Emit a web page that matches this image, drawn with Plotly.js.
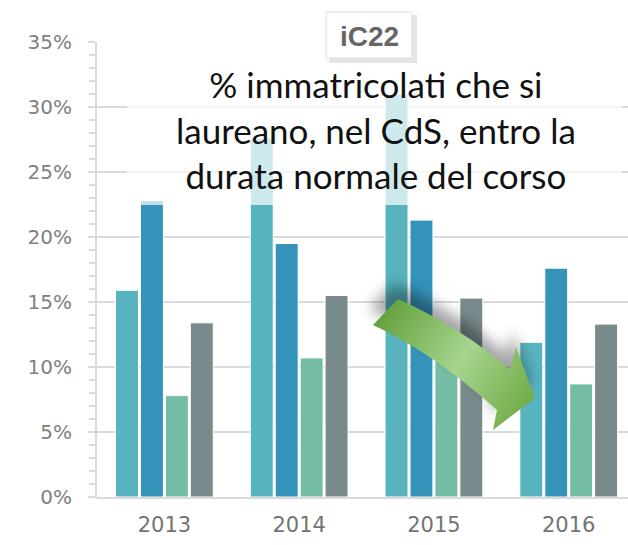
<!DOCTYPE html>
<html>
<head>
<meta charset="utf-8">
<script src="https://cdn.plot.ly/plotly-3.0.1.min.js"></script>
<style>html,body{margin:0;padding:0;background:#fff;}#chart{width:628px;height:545px;}</style>
</head>
<body>
<div id="chart"></div>
<script>
// Data
var years = ['2013', '2014', '2015', '2016'];
var seriesA = [15.9, 27.6, 31.0, 11.9];   // teal
var seriesB = [22.8, 19.5, 21.3, 17.6];   // blue
var seriesC = [7.8, 10.7, 11.0, 8.7];     // green
var seriesD = [13.4, 15.5, 15.3, 13.3];   // gray
var seriesNames = ['A', 'B', 'C', 'D'];
var yTicks = [0, 5, 10, 15, 20, 25, 30, 35];
var yTickLabels = ['0%', '5%', '10%', '15%', '20%', '25%', '30%', '35%'];
var titleText = '% immatricolati che si<br>laureano, nel CdS, entro la<br>durata normale del corso';
var badgeText = 'iC22';

var colors = ['#57b4bf', '#3592b9', '#74bca4', '#798a8c'];
var allSeries = [seriesA, seriesB, seriesC, seriesD];

// pixel -> paper helpers (plot area: x 97..628, y 42..497)
var L = 97, R = 628, T = 42, B = 497;
function X(px) { return (px - L) / (R - L); }
function Y(py) { return (B - py) / (B - T); }

var traces = allSeries.map(function (s, i) {
  return {
    type: 'bar', x: years, y: s, name: seriesNames[i],
    marker: { color: colors[i], line: { color: '#ffffff', width: 1 } },
    hoverinfo: 'skip'
  };
});

var arrowPath = 'M398,299 Q464,329 510,370 L516,347 L535,398 L493,430 L497,410 Q432,352 373,325 Z';
var svg = "<svg xmlns='http://www.w3.org/2000/svg' width='200' height='180' viewBox='355 270 200 180'>" +
  "<defs><linearGradient id='g' x1='373' y1='305' x2='535' y2='405' gradientUnits='userSpaceOnUse'>" +
  "<stop offset='0' stop-color='#5c9b34'/><stop offset='0.55' stop-color='#a7d48e'/><stop offset='1' stop-color='#6daa42'/></linearGradient>" +
  "<filter id='b' x='-50%' y='-50%' width='200%' height='200%'><feGaussianBlur stdDeviation='7'/></filter></defs>" +
  "<path d='" + arrowPath + "' fill='#000' opacity='0.35' filter='url(#b)' transform='translate(-4,-16)'/>" +
  "<path d='" + arrowPath + "' fill='url(#g)'/></svg>";
var svgUri = 'data:image/svg+xml;charset=utf-8,' + encodeURIComponent(svg);

var layout = {
  width: 628, height: 545,
  margin: { l: L, r: 628 - R, t: T, b: 545 - B, pad: 0 },
  paper_bgcolor: '#ffffff', plot_bgcolor: '#ffffff',
  showlegend: false, hovermode: false,
  barmode: 'group', bargap: 0.26, bargroupgap: 0.08,
  font: { family: 'DejaVu Sans', color: '#7a7a7a' },
  xaxis: {
    type: 'category', range: [-0.5, 3.44],
    showgrid: false, zeroline: false,
    showline: true, linecolor: '#dadada', linewidth: 2,
    ticks: '', tickfont: { size: 21, color: '#737373', family: 'DejaVu Sans' },
    ticklabelstandoff: 8
  },
  yaxis: {
    range: [0, 35], tickmode: 'array', tickvals: yTicks, ticktext: yTickLabels,
    showgrid: true, gridcolor: '#dadada', gridwidth: 2,
    zeroline: false,
    showline: true, linecolor: '#dadada', linewidth: 2,
    ticks: 'outside', ticklen: 7, tickwidth: 2, tickcolor: '#dadada',
    minor: { dtick: 1, ticks: 'outside', ticklen: 6, tickwidth: 2, tickcolor: '#dadada', showgrid: false },
    tickfont: { size: 20, color: '#808080', family: 'DejaVu Sans' },
    ticklabelstandoff: 12
  },
  shapes: [
    { type: 'rect', xref: 'paper', yref: 'paper', layer: 'above',
      x0: X(127), x1: X(622), y0: Y(205), y1: Y(55),
      fillcolor: 'rgba(255,255,255,0.7)', line: { width: 0 } },
    { type: 'rect', xref: 'paper', yref: 'paper', layer: 'above',
      x0: X(329), x1: X(417), y0: Y(63), y1: Y(15),
      fillcolor: 'rgba(0,0,0,0.10)', line: { width: 0 } },
    { type: 'rect', xref: 'paper', yref: 'paper', layer: 'above',
      x0: X(326), x1: X(412), y0: Y(58), y1: Y(12),
      fillcolor: '#ffffff', line: { color: '#dcdcdc', width: 1 } }
  ],
  images: [
    { source: svgUri, xref: 'paper', yref: 'paper', layer: 'above',
      x: X(355), y: Y(270), sizex: 200 / (R - L), sizey: 180 / (B - T),
      xanchor: 'left', yanchor: 'top', sizing: 'stretch' }
  ],
  annotations: [
    { text: titleText, xref: 'paper', yref: 'paper', x: X(376), y: Y(129),
      xanchor: 'center', yanchor: 'middle', showarrow: false, align: 'center',
      font: { family: 'Lato', size: 35, color: '#111111' } },
    { text: '<b>' + badgeText + '</b>', xref: 'paper', yref: 'paper', x: X(369), y: Y(36),
      xanchor: 'center', yanchor: 'middle', showarrow: false,
      font: { family: 'Liberation Sans', size: 28, color: '#666666' } }
  ]
};

Plotly.newPlot('chart', traces, layout, { displayModeBar: false, staticPlot: true });
</script>
</body>
</html>
